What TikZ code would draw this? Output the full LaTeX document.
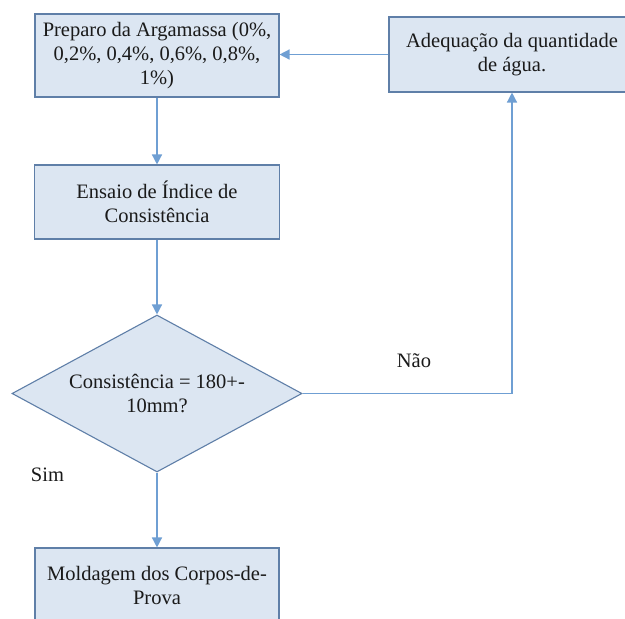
\documentclass[tikz,border=0pt]{standalone}
\usepackage{fontspec}
\setmainfont{Liberation Serif}
\usepackage{tikz}
\usetikzlibrary{positioning,arrows.meta,shapes.geometric}
\definecolor{boxfill}{HTML}{DCE6F2}
\definecolor{boxedge}{HTML}{5F7FA8}
\definecolor{flowblue}{HTML}{6F9FD3}
\definecolor{labelink}{HTML}{1A1A1A}

\begin{document}
\begin{tikzpicture}[
    x=1pt, y=-1pt,
    >={Triangle[length=10pt,width=10pt]},
    procbox/.style={draw=boxedge, fill=boxfill, line width=1.1pt, align=center,
        inner sep=0pt, font=\fontsize{20.5}{24}\selectfont, text=labelink},
    decisionbox/.style={diamond, draw=boxedge, fill=boxfill, line width=1.1pt, align=center,
        inner sep=0pt, aspect=1.85, minimum width=290pt, minimum height=157pt,
        font=\fontsize{20.5}{24}\selectfont, text=labelink},
    branchlabel/.style={inner sep=0pt, font=\fontsize{20.5}{24}\selectfont, text=labelink},
    flow/.style={->, line width=1.4pt, draw=flowblue}
]
\path[use as bounding box, fill=white] (0,0) rectangle (625,619);

% Main column: preparation, test, decision, moulding
\node[procbox, minimum width=244pt, minimum height=83pt] (prep) at (157,55.5) {%
  Preparo da Argamassa (0\%,\\ 0,2\%, 0,4\%, 0,6\%, 0,8\%,\\ 1\%)};
\node[procbox, minimum width=245pt, minimum height=74pt] (ensaio) at (157,202) {%
  Ensaio de Índice de\\ Consistência};
\node[decisionbox] (consist) at (157,393.5) {%
  Consistência = 180+-\\ 10mm?};
\node[procbox, minimum width=244pt, minimum height=74pt] (molde) at (157,585) {%
  Moldagem dos Corpos-de-\\ Prova};

% Feedback box, partly outside the page on the right
\node[procbox, minimum width=246pt, minimum height=75pt] (ajuste) at (512,54.5) {%
  Adequação da quantidade\\ de água.};

\node[branchlabel] (sim) at (47.5,475) {Sim};
\node[branchlabel] (nao) at (414,361) {Não};

\draw[flow] (prep.south) -- (ensaio.north);
\draw[flow] (ensaio.south) -- (consist.north);
\draw[flow] (consist.south) -- (molde.north);
\draw[flow] (consist.east) -| (ajuste.south);
\draw[flow] (ajuste.west) -- (ajuste.west -| prep.east);
\end{tikzpicture}
\end{document}
